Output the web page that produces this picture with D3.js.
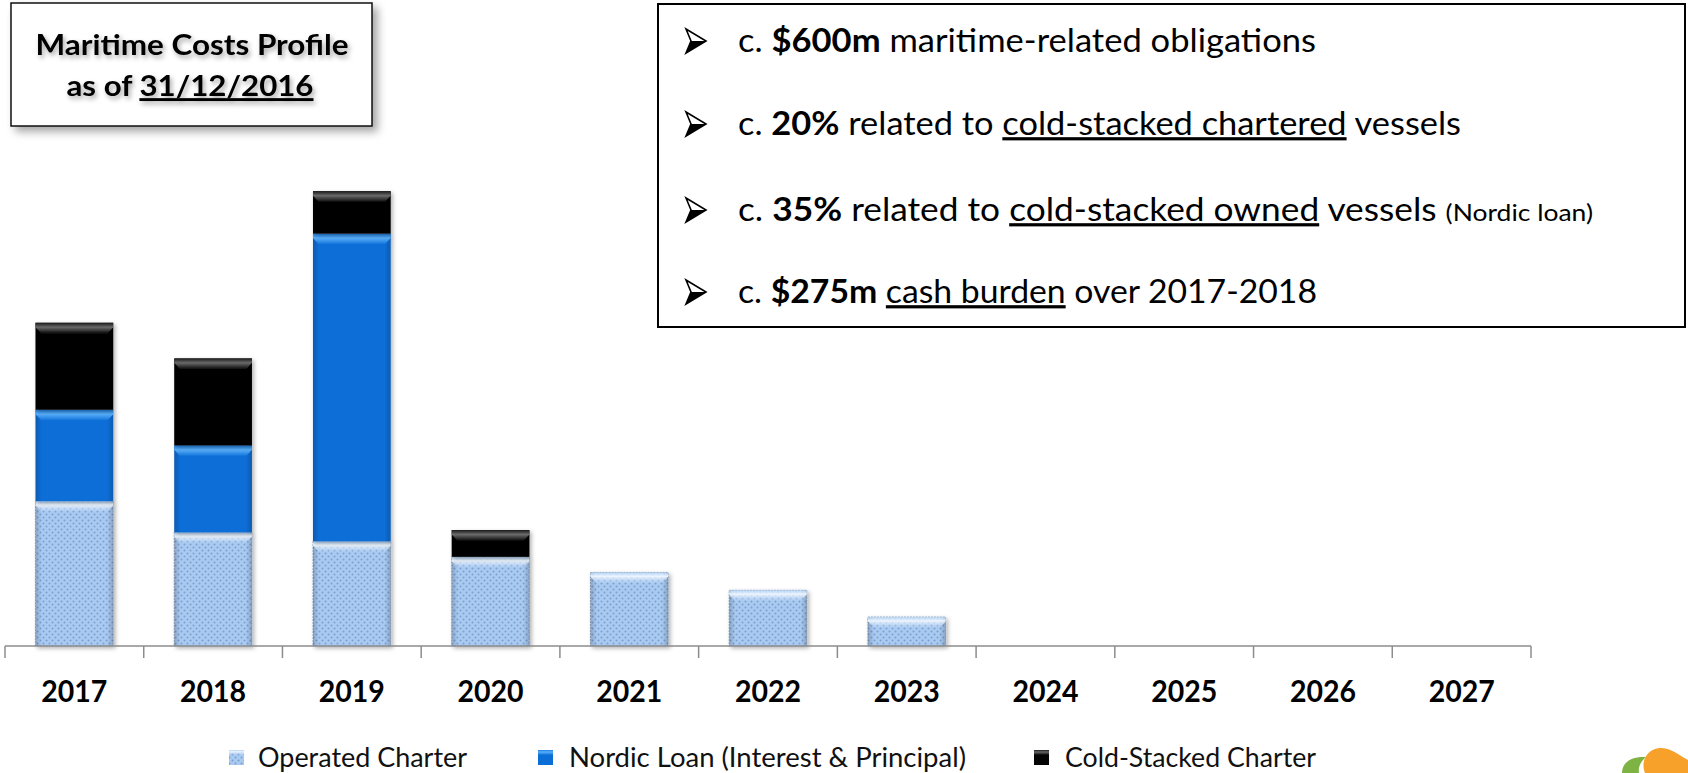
<!DOCTYPE html>
<html>
<head>
<meta charset="utf-8">
<script src="https://cdn.jsdelivr.net/npm/d3@7"></script>
<style>
  body { margin: 0; background: #fff; }
  svg { display: block; font-family: Lato, "Liberation Sans", Arial, sans-serif; }
</style>
</head>
<body>
<div id="chart"></div>
<script>
// chart data ($m)
const years = ["2017", "2018", "2019", "2020", "2021", "2022", "2023", "2024", "2025", "2026", "2027"];
const operatedCharter = [65, 51, 47, 40, 33, 25, 13, 0, 0, 0, 0];
const nordicLoan = [41, 39, 138, 0, 0, 0, 0, 0, 0, 0, 0];
const coldStacked = [39, 39, 19, 12, 0, 0, 0, 0, 0, 0, 0];
const seriesNames = ["Operated Charter", "Nordic Loan (Interest & Principal)", "Cold-Stacked Charter"];

let width = 1688,
    height = 773;

const svg = d3.select("#chart").append("svg")
      .attr("width", width)
      .attr("height", height);

const defs = svg.append("defs");

// dotted light-blue pattern
const pat = defs.append("pattern")
    .attr("id", "dots")
    .attr("width", 6).attr("height", 6)
    .attr("patternUnits", "userSpaceOnUse");
pat.append("rect").attr("width", 6).attr("height", 6).attr("fill", "#a9caf1");
pat.append("circle").attr("cx", 1.5).attr("cy", 1.5).attr("r", 1).attr("fill", "#7c9fd0");
pat.append("circle").attr("cx", 4.5).attr("cy", 4.5).attr("r", 1).attr("fill", "#7c9fd0");

function vgrad(id, stops) {
  const g = defs.append("linearGradient").attr("id", id)
      .attr("x1", 0).attr("y1", 0).attr("x2", 0).attr("y2", 1);
  stops.forEach(s => g.append("stop").attr("offset", s[0]).attr("stop-color", s[1]).attr("stop-opacity", s[2] == null ? 1 : s[2]));
}
vgrad("bevOp", [[0, "#c6e0fb", 0.6], [0.35, "#f2f8ff", 0.95], [1, "#cfe3fa", 0]]);
vgrad("bevNl", [[0, "#1f7fe0"], [0.4, "#5ab0fa"], [1, "#0c6fd8"]]);
vgrad("bevCs", [[0, "#1a1a1a"], [0.4, "#6a6a6a"], [1, "#050505"]]);

const side = defs.append("linearGradient").attr("id", "side")
    .attr("x1", 0).attr("y1", 0).attr("x2", 1).attr("y2", 0);
[[0, 0.18], [0.08, 0], [0.92, 0], [1, 0.18]].forEach(s =>
  side.append("stop").attr("offset", s[0]).attr("stop-color", "#000").attr("stop-opacity", s[1]));

const shadow = defs.append("filter").attr("id", "shadow")
    .attr("x", "-20%").attr("y", "-20%").attr("width", "140%").attr("height", "140%");
shadow.append("feDropShadow").attr("dx", 2).attr("dy", 2).attr("stdDeviation", 2)
    .attr("flood-color", "#000").attr("flood-opacity", 0.3);

const boxShadow = defs.append("filter").attr("id", "boxShadow")
    .attr("x", "-10%").attr("y", "-10%").attr("width", "125%").attr("height", "130%");
boxShadow.append("feDropShadow").attr("dx", 5).attr("dy", 5).attr("stdDeviation", 4)
    .attr("flood-color", "#000").attr("flood-opacity", 0.35);

const txtShadow = defs.append("filter").attr("id", "txtShadow")
    .attr("x", "-10%").attr("y", "-30%").attr("width", "125%").attr("height", "170%");
txtShadow.append("feDropShadow").attr("dx", 2).attr("dy", 3).attr("stdDeviation", 2.5)
    .attr("flood-color", "#000").attr("flood-opacity", 0.35);

// scales
const baseY = 646;
const x = d3.scaleBand().domain(years).range([5, 1531]).padding(0);
const y = d3.scaleLinear().domain([0, 250]).range([baseY, baseY - 250 * 2.229]);
const barW = x.bandwidth() * 0.56;

const table = years.map((yr, i) => ({ year: yr, op: operatedCharter[i], nl: nordicLoan[i], cs: coldStacked[i] }));
const stack = d3.stack().keys(["op", "nl", "cs"])(table);

const styles = {
  op: { fill: "url(#dots)", bevel: "url(#bevOp)", stroke: "#8fa6c2" },
  nl: { fill: "#0b6ed7", bevel: "url(#bevNl)", stroke: "none" },
  cs: { fill: "#050505", bevel: "url(#bevCs)", stroke: "none" }
};

const bars = svg.append("g");
stack.forEach(layer => {
  const st = styles[layer.key];
  const segs = layer.filter(d => d[1] - d[0] > 0);
  const g = bars.selectAll(null).data(segs).enter().append("g")
      .attr("filter", "url(#shadow)");
  g.append("rect")
      .attr("x", d => x(d.data.year) + (x.bandwidth() - barW) / 2)
      .attr("width", barW)
      .attr("y", d => y(d[1]))
      .attr("height", d => y(d[0]) - y(d[1]))
      .attr("fill", st.fill)
      .attr("stroke", st.stroke)
      .attr("stroke-dasharray", st.stroke === "none" ? null : "2,1");
  g.append("rect")
      .attr("x", d => x(d.data.year) + (x.bandwidth() - barW) / 2)
      .attr("width", barW)
      .attr("y", d => y(d[1]))
      .attr("height", d => y(d[0]) - y(d[1]))
      .attr("fill", "url(#side)");
  g.append("path")
      .attr("d", d => {
        const x0 = x(d.data.year) + (x.bandwidth() - barW) / 2, x1 = x0 + barW, t = y(d[1]);
        const h = Math.min(11, (y(d[0]) - y(d[1])) * 0.5);
        return `M${x0},${t}L${x1},${t}L${x1},${t + h * 0.4}L${x1 - 6},${t + h}L${x0 + 6},${t + h}L${x0},${t + h * 0.4}Z`;
      })
      .attr("fill", st.bevel);
});

// axis
const axisG = svg.append("g").attr("transform", `translate(0,${baseY})`);
axisG.append("line").attr("x1", x.range()[0]).attr("x2", x.range()[1])
    .attr("stroke", "#8c8c8c").attr("stroke-width", 1.5);
const bounds = years.map(d => x(d)).concat([x.range()[1]]);
axisG.selectAll(".tk").data(bounds).enter().append("line")
    .attr("x1", d => d).attr("x2", d => d).attr("y1", 0).attr("y2", 12)
    .attr("stroke", "#8c8c8c").attr("stroke-width", 1.5);

const xAxis = svg.append("g").attr("transform", `translate(0,${baseY})`)
    .call(d3.axisBottom(x).tickSize(0).tickPadding(0));
xAxis.select(".domain").remove();
xAxis.selectAll("text")
    .attr("y", 45)
    .attr("dy", "0.35em")
    .attr("font-family", "Lato, Liberation Sans, Arial, sans-serif")
    .attr("font-size", 31)
    .attr("font-weight", "bold")
    .attr("fill", "#000")
    .attr("textLength", 66)
    .attr("lengthAdjust", "spacingAndGlyphs");

// legend
const legendItems = [
  { name: seriesNames[0], key: "op", ix: 229, tx: 258, tw: 209 },
  { name: seriesNames[1], key: "nl", ix: 538, tx: 569, tw: 397 },
  { name: seriesNames[2], key: "cs", ix: 1034, tx: 1065, tw: 251 }
];
const legY = 758;
const lg = svg.append("g").selectAll("g").data(legendItems).enter().append("g");
lg.append("rect").attr("x", d => d.ix).attr("y", legY - 8).attr("width", 15).attr("height", 15)
    .attr("fill", d => styles[d.key].fill);
lg.append("rect").attr("x", d => d.ix).attr("y", legY - 8).attr("width", 15).attr("height", 5)
    .attr("fill", d => styles[d.key].bevel);
lg.append("text").attr("x", d => d.tx).attr("y", legY).attr("dy", "0.35em")
    .attr("font-size", 26).attr("fill", "#111")
    .attr("textLength", d => d.tw).attr("lengthAdjust", "spacingAndGlyphs")
    .text(d => d.name);

// title box
const tb = svg.append("g");
tb.append("rect").attr("x", 11).attr("y", 3).attr("width", 361).attr("height", 123)
    .attr("fill", "#fff").attr("stroke", "#111").attr("stroke-width", 1.5)
    .attr("filter", "url(#boxShadow)");
tb.append("text").attr("x", 192).attr("y", 45).attr("dy", "0.35em")
    .attr("text-anchor", "middle").attr("font-size", 29).attr("font-weight", "bold")
    .attr("filter", "url(#txtShadow)")
    .attr("textLength", 313).attr("lengthAdjust", "spacingAndGlyphs")
    .text("Maritime Costs Profile");
const t2 = tb.append("text").attr("x", 190).attr("y", 86).attr("dy", "0.35em")
    .attr("text-anchor", "middle").attr("font-size", 29).attr("font-weight", "bold")
    .attr("filter", "url(#txtShadow)")
    .attr("textLength", 247).attr("lengthAdjust", "spacingAndGlyphs");
t2.append("tspan").text("as of ");
t2.append("tspan").attr("text-decoration", "underline").text("31/12/2016");

// info box
const ib = svg.append("g");
ib.append("rect").attr("x", 658).attr("y", 4).attr("width", 1027).attr("height", 323)
    .attr("fill", "#fff").attr("stroke", "#000").attr("stroke-width", 2);

const infoLines = [
  { y: 41, w: 578, parts: [["c. "], ["$600m", "b"], [" maritime-related obligations"]] },
  { y: 124, w: 723, parts: [["c. "], ["20%", "b"], [" related to "], ["cold-stacked chartered", "u"], [" vessels"]] },
  { y: 210, w: 855, parts: [["c. "], ["35%", "b"], [" related to "], ["cold-stacked owned", "u"], [" vessels "], ["(Nordic loan)", "s"]] },
  { y: 292, w: 579, parts: [["c. "], ["$275m", "b"], [" "], ["cash burden", "u"], [" over 2017-2018"]] }
];
const il = ib.selectAll(".line").data(infoLines).enter().append("g");
il.append("path")
    .attr("transform", d => `translate(686,${d.y})`)
    .attr("d", "M0,-12L20,0L0,12L5,0Z")
    .attr("fill", "#fff").attr("stroke", "#000").attr("stroke-width", 1.6).attr("stroke-linejoin", "miter");
il.append("path")
    .attr("transform", d => `translate(686,${d.y})`)
    .attr("d", "M5,0L20,0L0,12Z")
    .attr("fill", "#000");
const itx = il.append("text").attr("x", 738).attr("y", d => d.y).attr("dy", "0.35em")
    .attr("font-size", 32).attr("fill", "#000")
    .attr("textLength", d => d.w).attr("lengthAdjust", "spacingAndGlyphs");
itx.each(function (d) {
  const t = d3.select(this);
  d.parts.forEach(p => {
    const ts = t.append("tspan").text(p[0]);
    if (p[1] === "b") ts.attr("font-weight", "bold");
    if (p[1] === "u") ts.attr("text-decoration", "underline");
    if (p[1] === "s") ts.attr("font-size", 24);
  });
});

// logo fragment, bottom right
const logo = svg.append("g");
logo.append("path")
    .attr("d", "M1622,773C1622,762 1632,756 1646,757C1640,762 1638,768 1639,773Z")
    .attr("fill", "#7cb342");
logo.append("path")
    .attr("d", "M1645,773C1640,760 1648,749 1660,748C1672,748 1680,756 1688,760L1688,773Z")
    .attr("fill", "#f7a12a");
</script>
</body>
</html>
